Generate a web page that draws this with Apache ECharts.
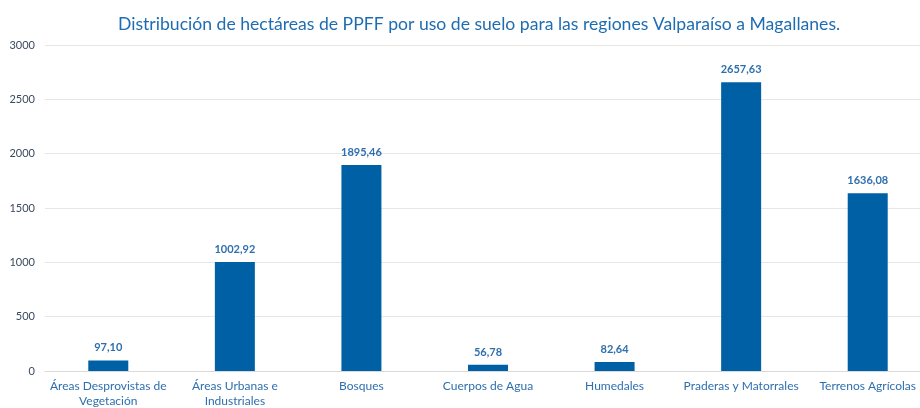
<!DOCTYPE html>
<html>
<head>
<meta charset="utf-8">
<script src="https://cdn.jsdelivr.net/npm/echarts@6/dist/echarts.min.js"></script>
<style>
  html, body { margin: 0; padding: 0; background: #fff; }
  #chart { width: 920px; height: 408px; }
</style>
</head>
<body>
<div id="chart"></div>
<script>
// categorias de uso de suelo
const categories = [
  'Áreas Desprovistas de\nVegetación',
  'Áreas Urbanas e\nIndustriales',
  'Bosques',
  'Cuerpos de Agua',
  'Humedales',
  'Praderas y Matorrales',
  'Terrenos Agrícolas'
]
// hectáreas
const hectareas = [97.10, 1002.92, 1895.46, 56.78, 82.64, 2657.63, 1636.08]
const yTicks = { min: 0, max: 3000, interval: 500 }

const fontFam = 'Lato, "Open Sans", sans-serif'

const chart = echarts.init(document.getElementById('chart'))
chart.setOption({
  animation: false,
  title: {
    text: 'Distribución de hectáreas de PPFF por uso de suelo para las regiones Valparaíso a Magallanes.',
    left: 113,
    top: 10,
    textStyle: { color: '#1f6db1', fontSize: 17.6, fontWeight: 'normal', fontFamily: fontFam }
  },
  grid: { left: 45, width: 886, top: 45, bottom: 37, outerBoundsMode: 'none', containLabel: false },
  xAxis: {
    type: 'category',
    data: categories,
    axisLine: { lineStyle: { color: '#d9d9d9' } },
    axisTick: { show: false },
    axisLabel: { color: '#2e6fad', fontSize: 12, fontFamily: fontFam, interval: 0, lineHeight: 15 }
  },
  yAxis: {
    type: 'value',
    min: yTicks.min,
    max: yTicks.max,
    interval: yTicks.interval,
    axisLine: { show: false },
    axisTick: { show: false },
    splitLine: { lineStyle: { color: '#e6e6e6' } },
    axisLabel: { color: '#3b4a5e', fontSize: 11, fontFamily: fontFam, margin: 10, formatter: v => String(v) }
  },
  series: [
    {
      type: 'bar',
      data: hectareas,
      barWidth: 40,
      itemStyle: { color: '#0060a6' },
      label: {
        show: true,
        position: 'top',
        distance: 7,
        color: '#2e6fad',
        fontSize: 11,
        fontWeight: 'bold',
        fontFamily: fontFam,
        formatter: p => p.value.toFixed(2).replace('.', ',')
      }
    }
  ]
})
</script>
</body>
</html>
